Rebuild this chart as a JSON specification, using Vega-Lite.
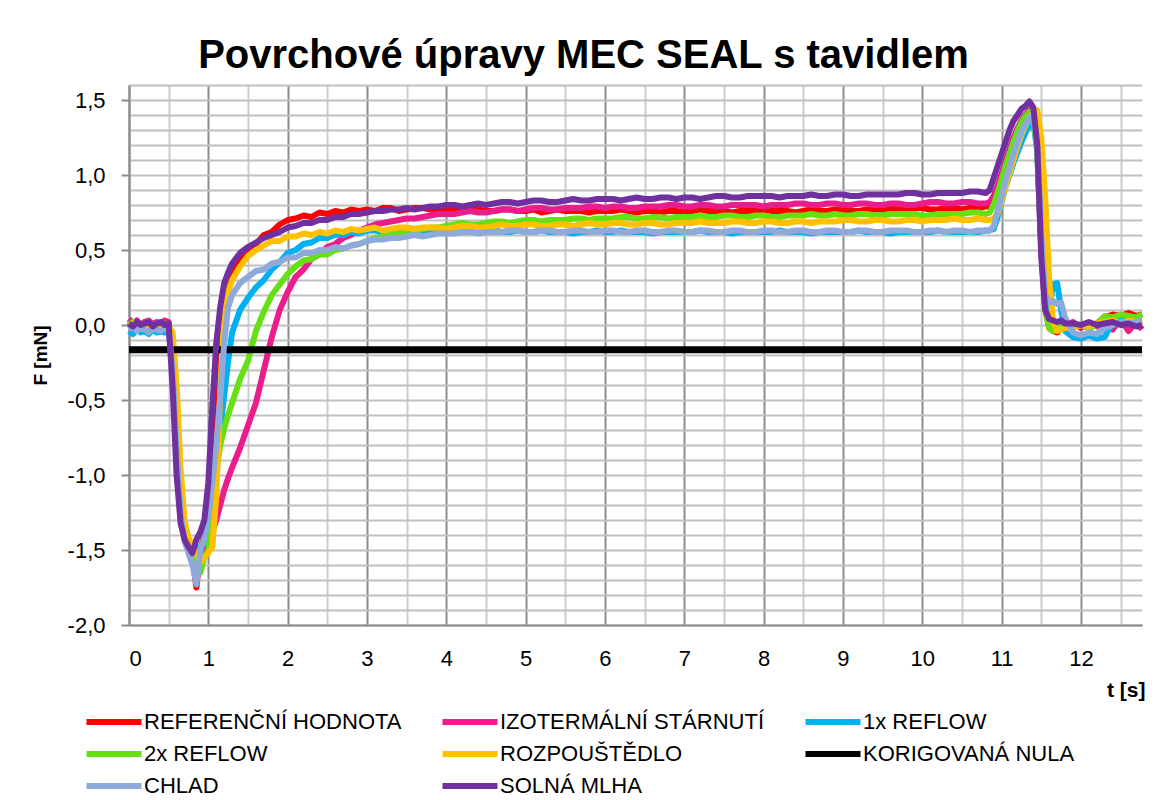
{
 "$schema": "https://vega.github.io/schema/vega-lite/v6.json",
 "width": 1013,
 "height": 540,
 "autosize": "none",
 "padding": {"left": 129, "top": 85, "right": 23, "bottom": 175},
 "background": "white",
 "title": {"text": "Povrchové úpravy MEC SEAL s tavidlem", "font": "Liberation Sans", "fontSize": 40, "fontWeight": "bold", "color": "black", "anchor": "middle", "frame": "group", "dx": -52, "baseline": "alphabetic", "offset": -23},
 "data": {"values": [
  {"t":0,"ref":0.02,"izo":0.04,"r1":-0.04,"r2":0,"roz":-0.01,"k":-0.165,"chl":-0.03,"sol":0.01},
  {"t":0.05,"ref":-0.01,"izo":0.01,"r1":-0.06,"r2":0.02,"roz":0.01,"k":-0.165,"chl":-0.01,"sol":-0.01},
  {"t":0.1,"ref":0.01,"izo":0.03,"r1":-0.03,"r2":-0.01,"roz":-0.02,"k":-0.165,"chl":-0.04,"sol":0.02},
  {"t":0.15,"ref":0,"izo":0,"r1":-0.05,"r2":0.01,"roz":0,"k":-0.165,"chl":-0.02,"sol":0},
  {"t":0.2,"ref":0.02,"izo":0.02,"r1":-0.04,"r2":0,"roz":-0.01,"k":-0.165,"chl":-0.03,"sol":0.01},
  {"t":0.25,"ref":-0.01,"izo":0.03,"r1":-0.06,"r2":0.02,"roz":0.01,"k":-0.165,"chl":-0.05,"sol":0.02},
  {"t":0.3,"ref":0.01,"izo":0,"r1":-0.03,"r2":-0.01,"roz":-0.02,"k":-0.165,"chl":-0.02,"sol":-0.01},
  {"t":0.35,"ref":-0.02,"izo":0.02,"r1":-0.05,"r2":0.01,"roz":0,"k":-0.165,"chl":-0.03,"sol":0.01},
  {"t":0.4,"ref":0.01,"izo":0.01,"r1":-0.04,"r2":0,"roz":-0.01,"k":-0.165,"chl":-0.04,"sol":0.02},
  {"t":0.45,"ref":0,"izo":0.03,"r1":-0.05,"r2":0.01,"roz":0,"k":-0.165,"chl":-0.02,"sol":0},
  {"t":0.5,"ref":0.01,"izo":0.02,"r1":-0.04,"r2":0,"roz":-0.01,"k":-0.165,"chl":-0.03,"sol":0.01},
  {"t":0.55,"ref":-0.25,"izo":-0.22,"r1":-0.28,"r2":-0.2,"roz":-0.05,"k":-0.165,"chl":-0.3,"sol":-0.42},
  {"t":0.6,"ref":-0.78,"izo":-0.72,"r1":-0.8,"r2":-0.7,"roz":-0.4,"k":-0.165,"chl":-0.82,"sol":-1.0},
  {"t":0.65,"ref":-1.2,"izo":-1.15,"r1":-1.22,"r2":-1.15,"roz":-0.95,"k":-0.165,"chl":-1.25,"sol":-1.32},
  {"t":0.7,"ref":-1.4,"izo":-1.38,"r1":-1.42,"r2":-1.38,"roz":-1.3,"k":-0.165,"chl":-1.44,"sol":-1.43},
  {"t":0.75,"ref":-1.47,"izo":-1.46,"r1":-1.5,"r2":-1.45,"roz":-1.42,"k":-0.165,"chl":-1.52,"sol":-1.48},
  {"t":0.8,"ref":-1.55,"izo":-1.5,"r1":-1.52,"r2":-1.48,"roz":-1.47,"k":-0.165,"chl":-1.6,"sol":-1.52},
  {"t":0.85,"ref":-1.75,"izo":-1.53,"r1":-1.5,"r2":-1.6,"roz":-1.52,"k":-0.165,"chl":-1.73,"sol":-1.43},
  {"t":0.9,"ref":-1.5,"izo":-1.52,"r1":-1.48,"r2":-1.65,"roz":-1.58,"k":-0.165,"chl":-1.5,"sol":-1.38},
  {"t":0.95,"ref":-1.4,"izo":-1.48,"r1":-1.45,"r2":-1.55,"roz":-1.55,"k":-0.165,"chl":-1.42,"sol":-1.3},
  {"t":1.0,"ref":-1.22,"izo":-1.44,"r1":-1.38,"r2":-1.5,"roz":-1.52,"k":-0.165,"chl":-1.28,"sol":-1.05},
  {"t":1.05,"ref":-0.9,"izo":-1.38,"r1":-1.2,"r2":-1.3,"roz":-1.48,"k":-0.165,"chl":-1.05,"sol":-0.55},
  {"t":1.1,"ref":-0.45,"izo":-1.3,"r1":-0.95,"r2":-0.98,"roz":-1.15,"k":-0.165,"chl":-0.8,"sol":-0.12},
  {"t":1.15,"ref":-0.05,"izo":-1.2,"r1":-0.7,"r2":-0.8,"roz":-0.45,"k":-0.165,"chl":-0.48,"sol":0.12},
  {"t":1.2,"ref":0.17,"izo":-1.1,"r1":-0.47,"r2":-0.69,"roz":0.08,"k":-0.165,"chl":-0.12,"sol":0.28},
  {"t":1.25,"ref":0.29,"izo":-1.02,"r1":-0.24,"r2":-0.6,"roz":0.22,"k":-0.165,"chl":0.12,"sol":0.35},
  {"t":1.3,"ref":0.35,"izo":-0.95,"r1":-0.05,"r2":-0.52,"roz":0.3,"k":-0.165,"chl":0.2,"sol":0.41},
  {"t":1.4,"ref":0.43,"izo":-0.82,"r1":0.1,"r2":-0.36,"roz":0.39,"k":-0.165,"chl":0.28,"sol":0.48},
  {"t":1.5,"ref":0.5,"izo":-0.67,"r1":0.18,"r2":-0.24,"roz":0.46,"k":-0.165,"chl":0.32,"sol":0.52},
  {"t":1.6,"ref":0.54,"izo":-0.52,"r1":0.25,"r2":-0.04,"roz":0.5,"k":-0.165,"chl":0.36,"sol":0.55},
  {"t":1.7,"ref":0.6,"izo":-0.3,"r1":0.3,"r2":0.09,"roz":0.53,"k":-0.165,"chl":0.37,"sol":0.58},
  {"t":1.8,"ref":0.62,"izo":-0.08,"r1":0.37,"r2":0.2,"roz":0.56,"k":-0.165,"chl":0.41,"sol":0.6},
  {"t":1.9,"ref":0.67,"izo":0.1,"r1":0.42,"r2":0.27,"roz":0.56,"k":-0.165,"chl":0.42,"sol":0.62},
  {"t":2.0,"ref":0.7,"izo":0.22,"r1":0.48,"r2":0.34,"roz":0.59,"k":-0.165,"chl":0.45,"sol":0.65},
  {"t":2.1,"ref":0.71,"izo":0.32,"r1":0.5,"r2":0.39,"roz":0.59,"k":-0.165,"chl":0.45,"sol":0.66},
  {"t":2.2,"ref":0.73,"izo":0.37,"r1":0.54,"r2":0.43,"roz":0.61,"k":-0.165,"chl":0.48,"sol":0.68},
  {"t":2.3,"ref":0.72,"izo":0.44,"r1":0.55,"r2":0.44,"roz":0.6,"k":-0.165,"chl":0.48,"sol":0.68},
  {"t":2.4,"ref":0.75,"izo":0.47,"r1":0.58,"r2":0.47,"roz":0.62,"k":-0.165,"chl":0.5,"sol":0.7},
  {"t":2.5,"ref":0.74,"izo":0.52,"r1":0.58,"r2":0.47,"roz":0.61,"k":-0.165,"chl":0.5,"sol":0.7},
  {"t":2.6,"ref":0.76,"izo":0.54,"r1":0.6,"r2":0.5,"roz":0.63,"k":-0.165,"chl":0.52,"sol":0.72},
  {"t":2.7,"ref":0.75,"izo":0.58,"r1":0.6,"r2":0.51,"roz":0.62,"k":-0.165,"chl":0.51,"sol":0.72},
  {"t":2.8,"ref":0.77,"izo":0.6,"r1":0.62,"r2":0.53,"roz":0.64,"k":-0.165,"chl":0.53,"sol":0.74},
  {"t":2.9,"ref":0.76,"izo":0.63,"r1":0.61,"r2":0.54,"roz":0.63,"k":-0.165,"chl":0.54,"sol":0.74},
  {"t":3.0,"ref":0.77,"izo":0.65,"r1":0.63,"r2":0.56,"roz":0.64,"k":-0.165,"chl":0.56,"sol":0.75},
  {"t":3.1,"ref":0.76,"izo":0.67,"r1":0.63,"r2":0.58,"roz":0.65,"k":-0.165,"chl":0.57,"sol":0.76},
  {"t":3.2,"ref":0.78,"izo":0.68,"r1":0.62,"r2":0.59,"roz":0.63,"k":-0.165,"chl":0.57,"sol":0.76},
  {"t":3.3,"ref":0.78,"izo":0.69,"r1":0.63,"r2":0.6,"roz":0.64,"k":-0.165,"chl":0.58,"sol":0.77},
  {"t":3.4,"ref":0.76,"izo":0.7,"r1":0.63,"r2":0.61,"roz":0.65,"k":-0.165,"chl":0.58,"sol":0.77},
  {"t":3.5,"ref":0.77,"izo":0.71,"r1":0.63,"r2":0.62,"roz":0.65,"k":-0.165,"chl":0.59,"sol":0.78},
  {"t":3.6,"ref":0.78,"izo":0.71,"r1":0.62,"r2":0.63,"roz":0.64,"k":-0.165,"chl":0.6,"sol":0.77},
  {"t":3.7,"ref":0.78,"izo":0.72,"r1":0.62,"r2":0.64,"roz":0.65,"k":-0.165,"chl":0.59,"sol":0.78},
  {"t":3.8,"ref":0.77,"izo":0.73,"r1":0.63,"r2":0.65,"roz":0.65,"k":-0.165,"chl":0.6,"sol":0.79},
  {"t":3.9,"ref":0.76,"izo":0.74,"r1":0.63,"r2":0.65,"roz":0.65,"k":-0.165,"chl":0.61,"sol":0.79},
  {"t":4.0,"ref":0.76,"izo":0.74,"r1":0.62,"r2":0.66,"roz":0.64,"k":-0.165,"chl":0.61,"sol":0.8},
  {"t":4.1,"ref":0.77,"izo":0.74,"r1":0.62,"r2":0.67,"roz":0.65,"k":-0.165,"chl":0.61,"sol":0.8},
  {"t":4.2,"ref":0.78,"izo":0.75,"r1":0.63,"r2":0.68,"roz":0.66,"k":-0.165,"chl":0.62,"sol":0.79},
  {"t":4.3,"ref":0.78,"izo":0.76,"r1":0.62,"r2":0.67,"roz":0.66,"k":-0.165,"chl":0.62,"sol":0.8},
  {"t":4.4,"ref":0.77,"izo":0.75,"r1":0.62,"r2":0.67,"roz":0.65,"k":-0.165,"chl":0.61,"sol":0.81},
  {"t":4.5,"ref":0.76,"izo":0.75,"r1":0.63,"r2":0.68,"roz":0.65,"k":-0.165,"chl":0.62,"sol":0.8},
  {"t":4.6,"ref":0.76,"izo":0.76,"r1":0.63,"r2":0.69,"roz":0.66,"k":-0.165,"chl":0.62,"sol":0.81},
  {"t":4.7,"ref":0.77,"izo":0.77,"r1":0.62,"r2":0.69,"roz":0.67,"k":-0.165,"chl":0.62,"sol":0.82},
  {"t":4.8,"ref":0.77,"izo":0.77,"r1":0.62,"r2":0.68,"roz":0.66,"k":-0.165,"chl":0.63,"sol":0.82},
  {"t":4.9,"ref":0.76,"izo":0.76,"r1":0.63,"r2":0.69,"roz":0.66,"k":-0.165,"chl":0.63,"sol":0.81},
  {"t":5.0,"ref":0.76,"izo":0.77,"r1":0.62,"r2":0.7,"roz":0.67,"k":-0.165,"chl":0.62,"sol":0.82},
  {"t":5.1,"ref":0.77,"izo":0.78,"r1":0.62,"r2":0.7,"roz":0.67,"k":-0.165,"chl":0.62,"sol":0.83},
  {"t":5.2,"ref":0.75,"izo":0.78,"r1":0.63,"r2":0.69,"roz":0.66,"k":-0.165,"chl":0.63,"sol":0.83},
  {"t":5.3,"ref":0.76,"izo":0.77,"r1":0.62,"r2":0.7,"roz":0.66,"k":-0.165,"chl":0.63,"sol":0.82},
  {"t":5.4,"ref":0.77,"izo":0.77,"r1":0.62,"r2":0.7,"roz":0.67,"k":-0.165,"chl":0.62,"sol":0.82},
  {"t":5.5,"ref":0.76,"izo":0.78,"r1":0.62,"r2":0.7,"roz":0.67,"k":-0.165,"chl":0.62,"sol":0.83},
  {"t":5.6,"ref":0.76,"izo":0.78,"r1":0.61,"r2":0.71,"roz":0.66,"k":-0.165,"chl":0.63,"sol":0.84},
  {"t":5.7,"ref":0.76,"izo":0.78,"r1":0.62,"r2":0.71,"roz":0.67,"k":-0.165,"chl":0.63,"sol":0.83},
  {"t":5.8,"ref":0.75,"izo":0.79,"r1":0.62,"r2":0.7,"roz":0.68,"k":-0.165,"chl":0.62,"sol":0.83},
  {"t":5.9,"ref":0.76,"izo":0.79,"r1":0.63,"r2":0.71,"roz":0.67,"k":-0.165,"chl":0.62,"sol":0.84},
  {"t":6.0,"ref":0.76,"izo":0.78,"r1":0.62,"r2":0.71,"roz":0.67,"k":-0.165,"chl":0.63,"sol":0.84},
  {"t":6.1,"ref":0.76,"izo":0.79,"r1":0.62,"r2":0.71,"roz":0.68,"k":-0.165,"chl":0.63,"sol":0.84},
  {"t":6.2,"ref":0.77,"izo":0.79,"r1":0.63,"r2":0.72,"roz":0.68,"k":-0.165,"chl":0.62,"sol":0.83},
  {"t":6.3,"ref":0.76,"izo":0.78,"r1":0.62,"r2":0.72,"roz":0.67,"k":-0.165,"chl":0.62,"sol":0.84},
  {"t":6.4,"ref":0.75,"izo":0.78,"r1":0.62,"r2":0.71,"roz":0.67,"k":-0.165,"chl":0.63,"sol":0.85},
  {"t":6.5,"ref":0.76,"izo":0.79,"r1":0.62,"r2":0.71,"roz":0.68,"k":-0.165,"chl":0.63,"sol":0.84},
  {"t":6.6,"ref":0.76,"izo":0.79,"r1":0.61,"r2":0.72,"roz":0.68,"k":-0.165,"chl":0.62,"sol":0.84},
  {"t":6.7,"ref":0.75,"izo":0.79,"r1":0.62,"r2":0.72,"roz":0.67,"k":-0.165,"chl":0.62,"sol":0.85},
  {"t":6.8,"ref":0.76,"izo":0.8,"r1":0.62,"r2":0.71,"roz":0.67,"k":-0.165,"chl":0.63,"sol":0.85},
  {"t":6.9,"ref":0.76,"izo":0.8,"r1":0.62,"r2":0.72,"roz":0.68,"k":-0.165,"chl":0.63,"sol":0.84},
  {"t":7.0,"ref":0.75,"izo":0.79,"r1":0.62,"r2":0.72,"roz":0.68,"k":-0.165,"chl":0.62,"sol":0.85},
  {"t":7.1,"ref":0.76,"izo":0.79,"r1":0.62,"r2":0.72,"roz":0.68,"k":-0.165,"chl":0.62,"sol":0.85},
  {"t":7.2,"ref":0.77,"izo":0.8,"r1":0.63,"r2":0.73,"roz":0.69,"k":-0.165,"chl":0.63,"sol":0.84},
  {"t":7.3,"ref":0.76,"izo":0.8,"r1":0.62,"r2":0.72,"roz":0.68,"k":-0.165,"chl":0.63,"sol":0.85},
  {"t":7.4,"ref":0.76,"izo":0.79,"r1":0.62,"r2":0.72,"roz":0.68,"k":-0.165,"chl":0.62,"sol":0.86},
  {"t":7.5,"ref":0.76,"izo":0.79,"r1":0.62,"r2":0.73,"roz":0.68,"k":-0.165,"chl":0.62,"sol":0.86},
  {"t":7.6,"ref":0.75,"izo":0.8,"r1":0.61,"r2":0.73,"roz":0.69,"k":-0.165,"chl":0.63,"sol":0.85},
  {"t":7.7,"ref":0.76,"izo":0.8,"r1":0.62,"r2":0.72,"roz":0.69,"k":-0.165,"chl":0.63,"sol":0.85},
  {"t":7.8,"ref":0.76,"izo":0.8,"r1":0.62,"r2":0.72,"roz":0.68,"k":-0.165,"chl":0.62,"sol":0.86},
  {"t":7.9,"ref":0.76,"izo":0.8,"r1":0.62,"r2":0.73,"roz":0.68,"k":-0.165,"chl":0.62,"sol":0.86},
  {"t":8.0,"ref":0.77,"izo":0.79,"r1":0.62,"r2":0.73,"roz":0.69,"k":-0.165,"chl":0.63,"sol":0.86},
  {"t":8.1,"ref":0.76,"izo":0.8,"r1":0.62,"r2":0.72,"roz":0.69,"k":-0.165,"chl":0.63,"sol":0.86},
  {"t":8.2,"ref":0.76,"izo":0.8,"r1":0.63,"r2":0.72,"roz":0.68,"k":-0.165,"chl":0.62,"sol":0.85},
  {"t":8.3,"ref":0.76,"izo":0.8,"r1":0.62,"r2":0.73,"roz":0.68,"k":-0.165,"chl":0.62,"sol":0.86},
  {"t":8.4,"ref":0.75,"izo":0.81,"r1":0.62,"r2":0.73,"roz":0.69,"k":-0.165,"chl":0.63,"sol":0.86},
  {"t":8.5,"ref":0.76,"izo":0.81,"r1":0.62,"r2":0.73,"roz":0.69,"k":-0.165,"chl":0.63,"sol":0.86},
  {"t":8.6,"ref":0.77,"izo":0.8,"r1":0.61,"r2":0.74,"roz":0.68,"k":-0.165,"chl":0.62,"sol":0.87},
  {"t":8.7,"ref":0.76,"izo":0.8,"r1":0.62,"r2":0.73,"roz":0.69,"k":-0.165,"chl":0.62,"sol":0.86},
  {"t":8.8,"ref":0.76,"izo":0.81,"r1":0.62,"r2":0.73,"roz":0.69,"k":-0.165,"chl":0.63,"sol":0.86},
  {"t":8.9,"ref":0.77,"izo":0.81,"r1":0.62,"r2":0.74,"roz":0.69,"k":-0.165,"chl":0.63,"sol":0.87},
  {"t":9.0,"ref":0.77,"izo":0.8,"r1":0.62,"r2":0.73,"roz":0.7,"k":-0.165,"chl":0.62,"sol":0.87},
  {"t":9.1,"ref":0.76,"izo":0.8,"r1":0.62,"r2":0.73,"roz":0.7,"k":-0.165,"chl":0.62,"sol":0.86},
  {"t":9.2,"ref":0.76,"izo":0.81,"r1":0.63,"r2":0.74,"roz":0.69,"k":-0.165,"chl":0.63,"sol":0.86},
  {"t":9.3,"ref":0.77,"izo":0.81,"r1":0.62,"r2":0.74,"roz":0.69,"k":-0.165,"chl":0.63,"sol":0.87},
  {"t":9.4,"ref":0.77,"izo":0.8,"r1":0.62,"r2":0.73,"roz":0.7,"k":-0.165,"chl":0.62,"sol":0.87},
  {"t":9.5,"ref":0.77,"izo":0.8,"r1":0.62,"r2":0.73,"roz":0.7,"k":-0.165,"chl":0.62,"sol":0.87},
  {"t":9.6,"ref":0.78,"izo":0.81,"r1":0.61,"r2":0.74,"roz":0.69,"k":-0.165,"chl":0.63,"sol":0.87},
  {"t":9.7,"ref":0.77,"izo":0.81,"r1":0.62,"r2":0.74,"roz":0.69,"k":-0.165,"chl":0.63,"sol":0.87},
  {"t":9.8,"ref":0.77,"izo":0.8,"r1":0.62,"r2":0.74,"roz":0.7,"k":-0.165,"chl":0.63,"sol":0.88},
  {"t":9.9,"ref":0.78,"izo":0.8,"r1":0.62,"r2":0.74,"roz":0.7,"k":-0.165,"chl":0.62,"sol":0.88},
  {"t":10.0,"ref":0.78,"izo":0.81,"r1":0.62,"r2":0.73,"roz":0.69,"k":-0.165,"chl":0.62,"sol":0.87},
  {"t":10.1,"ref":0.77,"izo":0.82,"r1":0.62,"r2":0.73,"roz":0.7,"k":-0.165,"chl":0.63,"sol":0.87},
  {"t":10.2,"ref":0.77,"izo":0.82,"r1":0.63,"r2":0.74,"roz":0.7,"k":-0.165,"chl":0.63,"sol":0.88},
  {"t":10.3,"ref":0.78,"izo":0.81,"r1":0.62,"r2":0.74,"roz":0.7,"k":-0.165,"chl":0.62,"sol":0.88},
  {"t":10.4,"ref":0.78,"izo":0.81,"r1":0.62,"r2":0.74,"roz":0.71,"k":-0.165,"chl":0.63,"sol":0.88},
  {"t":10.5,"ref":0.77,"izo":0.82,"r1":0.62,"r2":0.74,"roz":0.7,"k":-0.165,"chl":0.63,"sol":0.88},
  {"t":10.6,"ref":0.78,"izo":0.82,"r1":0.62,"r2":0.75,"roz":0.7,"k":-0.165,"chl":0.62,"sol":0.89},
  {"t":10.7,"ref":0.78,"izo":0.81,"r1":0.62,"r2":0.75,"roz":0.71,"k":-0.165,"chl":0.63,"sol":0.89},
  {"t":10.8,"ref":0.79,"izo":0.81,"r1":0.63,"r2":0.74,"roz":0.7,"k":-0.165,"chl":0.63,"sol":0.88},
  {"t":10.85,"ref":0.79,"izo":0.82,"r1":0.63,"r2":0.75,"roz":0.7,"k":-0.165,"chl":0.63,"sol":0.9},
  {"t":10.9,"ref":0.8,"izo":0.86,"r1":0.64,"r2":0.8,"roz":0.71,"k":-0.165,"chl":0.66,"sol":0.98},
  {"t":10.95,"ref":0.9,"izo":0.93,"r1":0.72,"r2":0.88,"roz":0.74,"k":-0.165,"chl":0.76,"sol":1.06},
  {"t":11.0,"ref":1.0,"izo":1.01,"r1":0.82,"r2":0.97,"roz":0.83,"k":-0.165,"chl":0.86,"sol":1.14},
  {"t":11.05,"ref":1.08,"izo":1.09,"r1":0.92,"r2":1.06,"roz":0.92,"k":-0.165,"chl":0.96,"sol":1.22},
  {"t":11.1,"ref":1.16,"izo":1.17,"r1":1.0,"r2":1.14,"roz":1.01,"k":-0.165,"chl":1.05,"sol":1.3},
  {"t":11.15,"ref":1.24,"izo":1.25,"r1":1.08,"r2":1.22,"roz":1.1,"k":-0.165,"chl":1.14,"sol":1.36},
  {"t":11.2,"ref":1.3,"izo":1.31,"r1":1.15,"r2":1.29,"roz":1.19,"k":-0.165,"chl":1.22,"sol":1.4},
  {"t":11.25,"ref":1.36,"izo":1.36,"r1":1.22,"r2":1.35,"roz":1.27,"k":-0.165,"chl":1.29,"sol":1.44},
  {"t":11.3,"ref":1.4,"izo":1.4,"r1":1.28,"r2":1.39,"roz":1.33,"k":-0.165,"chl":1.34,"sol":1.46},
  {"t":11.35,"ref":1.43,"izo":1.43,"r1":1.33,"r2":1.42,"roz":1.38,"k":-0.165,"chl":1.38,"sol":1.49},
  {"t":11.4,"ref":1.42,"izo":1.41,"r1":1.36,"r2":1.4,"roz":1.41,"k":-0.165,"chl":1.4,"sol":1.45},
  {"t":11.45,"ref":1.2,"izo":1.18,"r1":1.15,"r2":1.15,"roz":1.43,"k":-0.165,"chl":1.2,"sol":1.2},
  {"t":11.5,"ref":0.55,"izo":0.5,"r1":0.55,"r2":0.52,"roz":1.25,"k":-0.165,"chl":0.6,"sol":0.45},
  {"t":11.55,"ref":0.12,"izo":0.1,"r1":0.18,"r2":0.1,"roz":0.85,"k":-0.165,"chl":0.2,"sol":0.1},
  {"t":11.6,"ref":-0.02,"izo":0,"r1":0.12,"r2":-0.02,"roz":0.3,"k":-0.165,"chl":0.15,"sol":0.04},
  {"t":11.65,"ref":-0.04,"izo":-0.03,"r1":0.27,"r2":-0.04,"roz":0.02,"k":-0.165,"chl":0.16,"sol":0.03},
  {"t":11.7,"ref":-0.05,"izo":0.01,"r1":0.28,"r2":-0.03,"roz":-0.04,"k":-0.165,"chl":0.14,"sol":0.02},
  {"t":11.75,"ref":-0.02,"izo":-0.02,"r1":0.1,"r2":-0.01,"roz":-0.03,"k":-0.165,"chl":0.15,"sol":0.03},
  {"t":11.8,"ref":-0.03,"izo":0,"r1":-0.04,"r2":-0.02,"roz":-0.02,"k":-0.165,"chl":0.05,"sol":0.01},
  {"t":11.9,"ref":-0.01,"izo":0.02,"r1":-0.08,"r2":-0.01,"roz":-0.02,"k":-0.165,"chl":-0.05,"sol":0.01},
  {"t":12.0,"ref":0,"izo":-0.02,"r1":-0.09,"r2":0,"roz":0,"k":-0.165,"chl":-0.07,"sol":0},
  {"t":12.1,"ref":-0.02,"izo":0.01,"r1":-0.07,"r2":-0.02,"roz":-0.01,"k":-0.165,"chl":-0.05,"sol":0.02},
  {"t":12.2,"ref":0.01,"izo":-0.01,"r1":-0.09,"r2":0,"roz":0.01,"k":-0.165,"chl":-0.06,"sol":0},
  {"t":12.3,"ref":0.05,"izo":0.03,"r1":-0.08,"r2":0.06,"roz":0.02,"k":-0.165,"chl":-0.02,"sol":0.01},
  {"t":12.4,"ref":0.07,"izo":-0.03,"r1":0.02,"r2":0.05,"roz":0.03,"k":-0.165,"chl":0,"sol":0.02},
  {"t":12.5,"ref":0.06,"izo":0.04,"r1":0.04,"r2":0.07,"roz":0.01,"k":-0.165,"chl":0.02,"sol":0},
  {"t":12.6,"ref":0.08,"izo":-0.04,"r1":0.03,"r2":0.06,"roz":0.03,"k":-0.165,"chl":0.01,"sol":0.01},
  {"t":12.7,"ref":0.06,"izo":0.02,"r1":0.05,"r2":0.05,"roz":0.02,"k":-0.165,"chl":0.02,"sol":-0.01},
  {"t":12.77,"ref":0.07,"izo":-0.03,"r1":0.04,"r2":0.07,"roz":0.01,"k":-0.165,"chl":0.03,"sol":0}
 ]},
 "transform": [
  {"fold": ["ref", "izo", "r1", "r2", "roz", "k", "chl", "sol"], "as": ["key", "F"]}
 ],
 "mark": {"type": "line", "strokeJoin": "round", "strokeCap": "butt"},
 "encoding": {
  "x": {
   "field": "t", "type": "quantitative",
   "scale": {"domain": [0, 12.77], "nice": false, "zero": false},
   "axis": {
    "values": [0, 0.5, 1, 1.5, 2, 2.5, 3, 3.5, 4, 4.5, 5, 5.5, 6, 6.5, 7, 7.5, 8, 8.5, 9, 9.5, 10, 10.5, 11, 11.5, 12, 12.5],
    "grid": true,
    "gridColor": {"condition": {"test": "datum.value % 1 === 0", "value": "#8c8c8c"}, "value": "#cccccc"},
    "gridWidth": 2,
    "ticks": false,
    "domainColor": "#8c8c8c", "domainWidth": 2,
    "labelExpr": "datum.value % 1 === 0 ? format(datum.value, 'd') : ''",
    "labelFont": "Liberation Sans", "labelFontSize": 22, "labelColor": "black", "labelPadding": 23,
    "title": "t [s]", "titleFont": "Liberation Sans", "titleFontSize": 21, "titleFontWeight": "bold", "titleColor": "black",
    "titleAlign": "right", "titleBaseline": "middle", "titleX": 1016, "titleY": 65
   }
  },
  "y": {
   "field": "F", "type": "quantitative",
   "scale": {"domain": [-2, 1.6], "nice": false, "zero": false},
   "axis": {
    "values": [-2, -1.9, -1.8, -1.7, -1.6, -1.5, -1.4, -1.3, -1.2, -1.1, -1, -0.9, -0.8, -0.7, -0.6, -0.5, -0.4, -0.3, -0.2, -0.1, 0, 0.1, 0.2, 0.3, 0.4, 0.5, 0.6, 0.7, 0.8, 0.9, 1, 1.1, 1.2, 1.3, 1.4, 1.5, 1.6],
    "grid": true,
    "gridColor": "#c0c0c0",
    "gridWidth": 2,
    "tickSize": 8, "tickWidth": 2, "tickColor": "#8c8c8c",
    "tickOpacity": {"condition": {"test": "abs(round(datum.value * 10)) % 5 === 0", "value": 1}, "value": 0},
    "domainColor": "#8c8c8c", "domainWidth": 2,
    "labelExpr": "abs(round(datum.value * 10)) % 5 === 0 ? (datum.value < 0 ? '-' : '') + replace(format(abs(datum.value), '.1f'), '.', ',') : ''",
    "labelFont": "Liberation Sans", "labelFontSize": 22, "labelColor": "black", "labelPadding": 16,
    "title": "F [mN]", "titleFont": "Liberation Sans", "titleFontSize": 19, "titleFontWeight": "bold", "titleColor": "black",
    "titleAngle": -90, "titleAlign": "center", "titleBaseline": "middle", "titleX": -89, "titleY": 270
   }
  },
  "color": {
   "field": "key", "type": "nominal",
   "scale": {
    "domain": ["ref", "izo", "r1", "r2", "roz", "k", "chl", "sol"],
    "range": ["#ff0000", "#e91e8c", "#00b0f0", "#66e012", "#ffc000", "#000000", "#8eaadb", "#7030a0"]
   },
   "legend": {
    "orient": "none", "legendX": -29, "legendY": 623, "columns": 3, "direction": "horizontal", "title": null, "padding": 0,
    "symbolType": "M-2.5,0H2.5", "symbolSize": 484, "symbolStrokeWidth": 6,
    "labelFont": "Liberation Sans", "labelFontSize": 22, "labelColor": "black", "labelOffset": 16, "labelLimit": 400,
    "columnPadding": 28, "rowPadding": 6,
    "labelExpr": "{'ref': 'REFERENČNÍ HODNOTA', 'izo': 'IZOTERMÁLNÍ STÁRNUTÍ', 'r1': '1x REFLOW', 'r2': '2x REFLOW', 'roz': 'ROZPOUŠTĚDLO', 'k': 'KORIGOVANÁ NULA', 'chl': 'CHLAD', 'sol': 'SOLNÁ MLHA'}[datum.label]"
   }
  },
  "strokeWidth": {"condition": {"test": "datum.key === 'k'", "value": 7}, "value": 6}
 },
 "config": {"view": {"stroke": null}}
}
